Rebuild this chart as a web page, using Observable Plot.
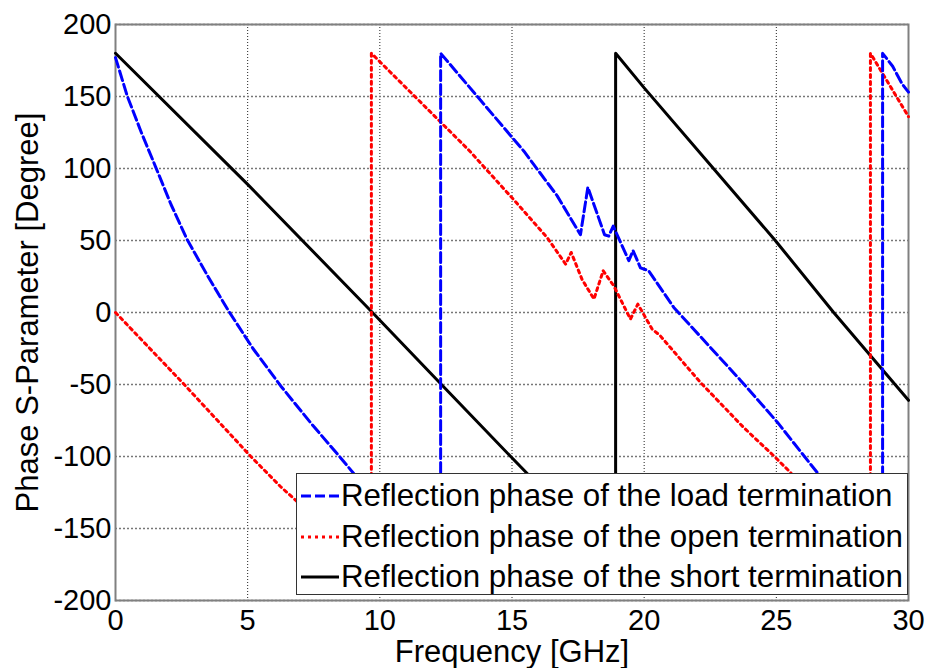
<!DOCTYPE html>
<html><head><meta charset="utf-8">
<script src="https://cdn.jsdelivr.net/npm/d3@7"></script>
<script src="https://cdn.jsdelivr.net/npm/@observablehq/plot@0.6"></script>
<style>
body{margin:0;background:#fff;}
#wrap{position:relative;width:931px;height:668px;overflow:hidden;font-family:"Liberation Sans",Arial,sans-serif;}
#legend{position:absolute;left:296px;top:473px;width:612px;height:122px;background:#fff;border:1.5px solid #333;box-sizing:border-box;}
.row{position:absolute;left:0;height:40px;display:flex;align-items:center;font-size:31.3px;color:#000;white-space:nowrap;}
.row svg{margin-left:4px;margin-right:2px;}
</style></head>
<body><div id="wrap"></div>
<script>
const xTicks = [0,5,10,15,20,25,30];
const yTicks = [-200,-150,-100,-50,0,50,100,150,200];

const loadFreq  = [0,0.45,1.0,1.52,2.1,2.7,3.5,4.28,5.2,6.25,7.4,8.52,9.02,12.3,12.3,15.45,16.71,17.59,17.87,18.5,18.66,18.83,19.42,19.58,19.86,20.17,21.12,23.64,25.03,26.54,29.02,29.02,29.4,29.75,30];
const loadPhase = [177,150,124,101,75,51,25,1,-25,-51,-77,-101,-112,-180,180,112,81,54,87,54,53,60,36,43,31,29,3.5,-47,-76,-111,-180,180,171,159,153];

const openFreq  = [0,2.6,5.12,6.25,9.68,9.68,13.37,15.13,16.33,17.03,17.24,17.65,18.1,18.45,18.85,19.48,19.76,20.3,20.6,22.13,23.77,24.9,25.53,28.56,28.56,30];
const openPhase = [0,-50,-100,-121,-178,180,112.7,77,52,33.6,41.7,23,9.3,29,18.5,-4.6,5.8,-11.5,-16,-48.6,-80,-99.5,-111,-178,180,136];

const shortFreq  = [0,5,9.72,12.33,14.95,18.92,18.92,20,24.96,27.17,30];
const shortPhase = [180,89,0,-50,-100,-175,180,156,50,0,-61];

const seriesNames = ["Reflection phase of the load termination","Reflection phase of the open termination","Reflection phase of the short termination"];
const seriesColors = ["#0000ff","#ff0000","#000000"];
const seriesDash = ["10,4","3,4",null];

const toRows = (f,p) => f.map((x,i)=>({f:x,p:p[i]}));
const load = toRows(loadFreq, loadPhase);
const open = toRows(openFreq, openPhase);
const short = toRows(shortFreq, shortPhase);

const font = '"Liberation Sans", Arial, sans-serif';
const chart = Plot.plot({
  width: 931, height: 668,
  marginLeft: 115, marginRight: 23, marginTop: 24, marginBottom: 68,
  style: {fontFamily: font, fontSize: "29px", color: "#000", background: "#fff"},
  x: {domain: [0,30]},
  y: {domain: [-200,200]},
  marks: [
    Plot.gridX(xTicks, {stroke: "#222", strokeOpacity: 1, strokeDasharray: "1,2", strokeWidth: 1}),
    Plot.gridY(yTicks, {stroke: "#777", strokeOpacity: 1, strokeDasharray: "2,2", strokeWidth: 1.5}),
    Plot.frame({stroke: "#808080", strokeWidth: 2}),
    Plot.axisX(xTicks, {tickSize: 0, tickPadding: 9, tickFormat: d => String(d), label: null, fontSize: 29}),
    Plot.axisY(yTicks, {tickSize: 0, tickPadding: 4, tickFormat: d => String(d), label: null, fontSize: 29}),
    Plot.line(short, {x: "f", y: "p", stroke: seriesColors[2], strokeWidth: 3}),
    Plot.line(open, {x: "f", y: "p", stroke: seriesColors[1], strokeWidth: 3, strokeDasharray: seriesDash[1]}),
    Plot.line(load, {x: "f", y: "p", stroke: seriesColors[0], strokeWidth: 3, strokeDasharray: seriesDash[0]}),
    Plot.text(["Frequency [GHz]"], {frameAnchor: "bottom", lineAnchor: "top", dy: 39, fontSize: 31, fill: "#000"}),
    Plot.text(["Phase S-Parameter [Degree]"], {frameAnchor: "left", textAnchor: "middle", lineAnchor: "middle", dx: -87, rotate: -90, fontSize: 31, fill: "#000"})
  ]
});
const wrap = document.getElementById("wrap");
wrap.appendChild(chart);

const legend = document.createElement("div");
legend.id = "legend";
const rowTops = [2, 43, 83];
seriesNames.forEach((name, i) => {
  const row = document.createElement("div");
  row.className = "row";
  row.style.top = rowTops[i] + "px";
  const dash = seriesDash[i] ? `stroke-dasharray="${seriesDash[i]}"` : "";
  row.innerHTML = `<svg width="38" height="10"><line x1="0" y1="5" x2="38" y2="5" stroke="${seriesColors[i]}" stroke-width="3" ${dash}/></svg><span>${name}</span>`;
  legend.appendChild(row);
});
wrap.appendChild(legend);
</script></body></html>
